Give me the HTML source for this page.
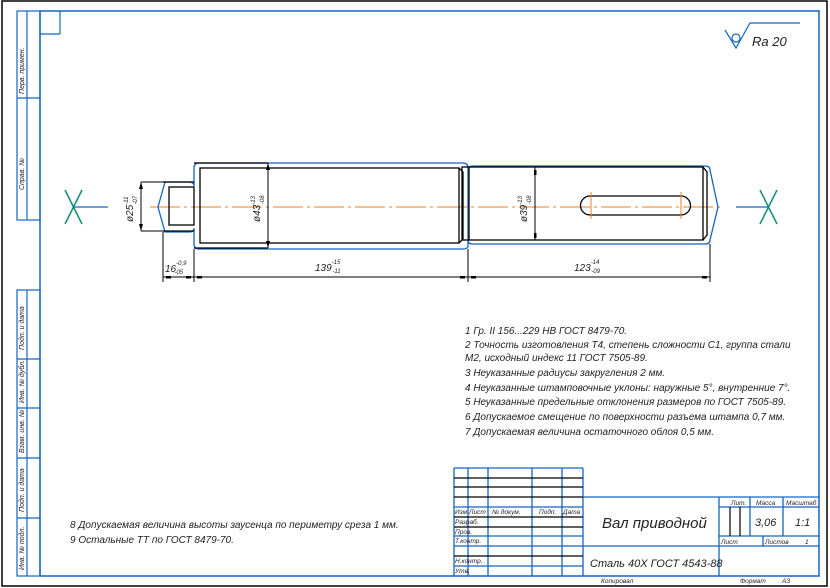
<!DOCTYPE html>
<html><head><meta charset="utf-8"><style>
html,body{margin:0;padding:0;background:#fff;}
svg{display:block;}
text{font-family:"Liberation Sans","DejaVu Sans",sans-serif;font-style:italic;fill:#222;}
</style></head><body>
<svg width="830" height="588" viewBox="0 0 830 588" xmlns="http://www.w3.org/2000/svg">
<rect x="2" y="1" width="825" height="585" fill="none" stroke="#000" stroke-width="1.5"/>
<rect x="40" y="11" width="779" height="565" fill="none" stroke="#1565c0" stroke-width="1.5"/>
<g stroke="#1565c0" stroke-width="1.2" fill="none">
<rect x="17" y="11" width="23" height="209"/>
<line x1="27" y1="11" x2="27" y2="220"/>
<line x1="17" y1="98" x2="40" y2="98"/>
<line x1="40" y1="34" x2="60" y2="34"/>
<line x1="60" y1="11" x2="60" y2="34"/>
<rect x="17" y="290" width="23" height="286"/>
<line x1="27" y1="290" x2="27" y2="576"/>
<line x1="17" y1="359" x2="40" y2="359"/>
<line x1="17" y1="408" x2="40" y2="408"/>
<line x1="17" y1="458" x2="40" y2="458"/>
<line x1="17" y1="518" x2="40" y2="518"/>
</g>
<g font-size="7">
<text transform="translate(24,94) rotate(-90)">Перв. примен.</text>
<text transform="translate(24,190) rotate(-90)">Справ. №</text>
<text transform="translate(24,350) rotate(-90)">Подп. и дата</text>
<text transform="translate(24,403) rotate(-90)">Инв. № дубл.</text>
<text transform="translate(24,453) rotate(-90)">Взам. инв. №</text>
<text transform="translate(24,512) rotate(-90)">Подп. и дата</text>
<text transform="translate(24,570) rotate(-90)">Инв. № подл.</text>
</g>

<g stroke="#1565c0" stroke-width="1.2" fill="none">
<polyline points="725,30 736,48 750,23 800,23"/>
<circle cx="736" cy="38" r="4"/>
</g>
<text x="752" y="46" font-size="13">Ra 20</text>

<line x1="150" y1="207" x2="722" y2="207" stroke="#f08020" stroke-width="1" stroke-dasharray="30,4,3,4"/>

<g stroke="#1a9078" stroke-width="1.6">
<line x1="65" y1="190" x2="82" y2="224"/><line x1="82" y1="190" x2="65" y2="224"/>
<line x1="760" y1="190" x2="777" y2="224"/><line x1="777" y1="190" x2="760" y2="224"/>
</g>
<g stroke="#1565c0" stroke-width="1.2">
<line x1="73" y1="207" x2="108" y2="207"/>
<line x1="736" y1="207" x2="768" y2="207"/>
</g>

<g stroke="#1565c0" stroke-width="1.3" fill="none">
<path d="M194,186 L194,168 Q194,163 199,163 L463,163 Q468,163 468,168 L468,246 Q468,249 463,249 L199,249 Q194,249 194,244 L194,228 Q194,232 189,232 L165,232 L158,207 L165,182 L189,182 Q194,182 194,186 Z"/>
<path d="M468,170 Q468,166 473,166 L705,166 Q710,166 710,170 L718,207 L710,240 Q710,244 705,244 L473,244 Q468,244 468,240"/>
</g>

<g stroke="#000" stroke-width="1.3" fill="none">
<rect x="169" y="187" width="25" height="38"/>
<line x1="163" y1="182" x2="194" y2="182"/><line x1="163" y1="231" x2="194" y2="231"/>
<rect x="200" y="168" width="259" height="75"/>
<line x1="194" y1="163" x2="268" y2="163"/><line x1="194" y1="248" x2="268" y2="248"/>
<polyline points="459,168 463,172 463,239 459,243"/>
<rect x="462" y="167" width="241" height="73"/>
<line x1="469" y1="167" x2="469" y2="240"/>
<polyline points="703,167 707,172 707,235 703,240"/>
<path d="M590,196 L681,196 A9.5,9.5 0 0 1 681,215 L590,215 A9.5,9.5 0 0 1 590,196 Z"/>
</g>
<g stroke="#f08020" stroke-width="1">
<line x1="591" y1="192" x2="591" y2="219"/><line x1="681" y1="192" x2="681" y2="219"/>
</g>

<g stroke="#000" stroke-width="1">
<line x1="141" y1="182" x2="163" y2="182"/><line x1="141" y1="231" x2="163" y2="231"/>
<line x1="141" y1="182" x2="141" y2="231"/>
<line x1="268" y1="163" x2="268" y2="248"/>
<line x1="535" y1="167" x2="535" y2="240"/>
</g>
<g fill="#000">
<polygon points="141,182 139,189 143,189"/><polygon points="141,231 139,224 143,224"/>
<polygon points="268,163 266,170 270,170"/><polygon points="268,248 266,241 270,241"/>
<rect x="534" y="170" width="2.5" height="5"/><rect x="534" y="233" width="2.5" height="5"/>
</g>
<text transform="translate(133,222) rotate(-90)" font-size="10">ø25<tspan font-size="6" dy="-5">-11</tspan><tspan font-size="6" dx="-8" dy="9">-07</tspan></text>
<text transform="translate(260,222) rotate(-90)" font-size="10">ø43<tspan font-size="6" dy="-5">-13</tspan><tspan font-size="6" dx="-8" dy="9">-08</tspan></text>
<text transform="translate(527,222) rotate(-90)" font-size="10">ø39<tspan font-size="6" dy="-5">-13</tspan><tspan font-size="6" dx="-8" dy="9">-08</tspan></text>

<g stroke="#000" stroke-width="1">
<line x1="163" y1="232" x2="163" y2="282"/>
<line x1="194" y1="249" x2="194" y2="282"/>
<line x1="468" y1="249" x2="468" y2="282"/>
<line x1="710" y1="244" x2="710" y2="282"/>
<line x1="163" y1="277" x2="710" y2="277"/>
</g>
<g fill="#000">
<rect x="166" y="276" width="5" height="2.5"/><rect x="186" y="276" width="5" height="2.5"/>
<rect x="197" y="276" width="5" height="2.5"/><rect x="460" y="276" width="5" height="2.5"/>
<rect x="471" y="276" width="5" height="2.5"/><rect x="702" y="276" width="5" height="2.5"/>
</g>
<text x="165" y="272" font-size="10">16<tspan font-size="6" dy="-7">-0,9</tspan><tspan font-size="6" dx="-12" dy="9">-05</tspan></text>
<text x="315" y="271" font-size="10">139<tspan font-size="6" dy="-7">-15</tspan><tspan font-size="6" dx="-8" dy="9">-11</tspan></text>
<text x="574" y="271" font-size="10">123<tspan font-size="6" dy="-7">-14</tspan><tspan font-size="6" dx="-8" dy="9">-09</tspan></text>

<g font-size="10">
<text x="465" y="334">1 Гр. II 156...229 НВ ГОСТ 8479-70.</text>
<text x="465" y="348">2  Точность изготовления Т4, степень сложности С1,  группа стали</text>
<text x="465" y="361">М2, исходный индекс 11 ГОСТ 7505-89.</text>
<text x="465" y="376">3  Неуказанные радиусы закругления 2 мм.</text>
<text x="465" y="391">4  Неуказанные штамповочные уклоны: наружные 5°, внутренние 7°.</text>
<text x="465" y="405">5  Неуказанные предельные отклонения размеров по ГОСТ 7505-89.</text>
<text x="465" y="420">6  Допускаемое смещение по поверхности разъема штампа 0,7 мм.</text>
<text x="465" y="435">7  Допускаемая величина остаточного облоя 0,5 мм.</text>
<text x="70" y="528">8  Допускаемая величина высоты заусенца по периметру среза 1 мм.</text>
<text x="70" y="543">9  Остальные ТТ по ГОСТ 8479-70.</text>
</g>

<g stroke="#1565c0" stroke-width="1.3" fill="none">
<line x1="454" y1="468" x2="583" y2="468"/>
<line x1="454" y1="468" x2="454" y2="576"/>
<line x1="583" y1="468" x2="583" y2="576"/>
<line x1="583" y1="497" x2="819" y2="497"/>
<line x1="583" y1="546" x2="819" y2="546"/>
<line x1="719" y1="497" x2="719" y2="576"/>
<line x1="719" y1="507" x2="819" y2="507"/>
<line x1="719" y1="536" x2="819" y2="536"/>
<line x1="750" y1="497" x2="750" y2="536"/>
<line x1="783" y1="497" x2="783" y2="536"/>
<line x1="763" y1="536" x2="763" y2="546"/>
<line x1="468" y1="468" x2="468" y2="576"/>
<line x1="488" y1="468" x2="488" y2="576"/>
<line x1="532" y1="468" x2="532" y2="576"/>
<line x1="562" y1="468" x2="562" y2="576"/>
<line x1="454" y1="507" x2="583" y2="507"/>
<line x1="454" y1="536" x2="583" y2="536"/>
<line x1="454" y1="546" x2="583" y2="546"/>
<line x1="454" y1="566" x2="583" y2="566"/>
</g>
<g stroke="#000" stroke-width="1.2">
<line x1="454" y1="478" x2="583" y2="478"/>
<line x1="454" y1="487" x2="583" y2="487"/>
<line x1="454" y1="497" x2="583" y2="497"/>
<line x1="454" y1="517" x2="583" y2="517"/>
<line x1="454" y1="527" x2="583" y2="527"/>
<line x1="454" y1="556" x2="583" y2="556"/>
<line x1="730" y1="507" x2="730" y2="536"/>
<line x1="740" y1="507" x2="740" y2="536"/>
</g>
<g font-size="6.5">
<text x="455" y="514">Изм</text><text x="469" y="514">Лист</text><text x="492" y="514">№ докум.</text>
<text x="539" y="514">Подп.</text><text x="563" y="514">Дата</text>
<text x="455" y="524">Разраб.</text><text x="455" y="534">Пров.</text><text x="455" y="543">Т.контр.</text>
<text x="455" y="563">Н.контр.</text><text x="455" y="573">Утв.</text>
<text x="731" y="505">Лит.</text><text x="756" y="505">Масса</text><text x="786" y="505">Масштаб</text>
<text x="721" y="544">Лист</text><text x="765" y="544">Листов</text><text x="805" y="544">1</text>
<text x="601" y="583">Копировал</text><text x="740" y="583">Формат</text><text x="782" y="583">А3</text>
</g>
<text x="602" y="528" font-size="15">Вал приводной</text>
<text x="590" y="567" font-size="11">Сталь 40Х ГОСТ 4543-88</text>
<text x="755" y="526" font-size="11">3,06</text>
<text x="795" y="526" font-size="11">1:1</text>
</svg>
</body></html>
